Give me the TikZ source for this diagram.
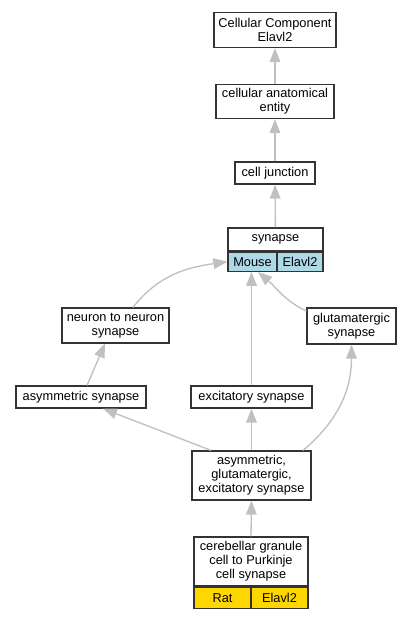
\documentclass[tikz,border=0pt]{standalone}
\usepackage{fontspec}
\setmainfont{Liberation Sans}
\usepackage{tikz}
\usetikzlibrary{arrows.meta,positioning}
\definecolor{edgegray}{HTML}{C0C0C0}
\definecolor{boxline}{HTML}{333333}
\definecolor{mousecell}{HTML}{ADD8E6}
\definecolor{ratcell}{HTML}{FFD700}
\tikzset{
  term/.style={draw=boxline,line width=0.9pt,fill=white,inner sep=0pt,align=center,
    font=\fontsize{9.6}{10.6}\selectfont},
  cell/.style={term,minimum height=14.25pt},
  isa/.style={draw,color=edgegray,line width=1pt,-{Triangle[length=10.5pt,width=8pt,fill=edgegray]}}
}

\begin{document}
\begin{tikzpicture}[x=0.75pt,y=-0.75pt]
  \useasboundingbox (0,0) rectangle (412,619);
                   \node[term,minimum width=91.5pt,minimum height=26.25pt] (cc_elavl) at (275,30) {Cellular Component\\Elavl2};
                   \node[term,minimum width=88.5pt,minimum height=25.5pt] (cae) at (275,101.5) {cellular anatomical\\entity};
                   \node[term,minimum width=60pt,minimum height=16.5pt] (cell_junction) at (275,173) {cell junction};
                   \node[term,minimum width=71.25pt,minimum height=17.25pt] (synapse) at (275.5,239.5) {synapse};
                   \node[cell,fill=mousecell,minimum width=36.75pt,anchor=north west] (syn_mouse) at (synapse.south west) {Mouse};
                   \node[cell,fill=mousecell,minimum width=34.5pt,anchor=north east] (syn_elavl) at (synapse.south east) {Elavl2};
                   \node[term,minimum width=80.25pt,minimum height=26.25pt] (n2n) at (115.5,325.5) {neuron to neuron\\synapse};
                   \node[term,minimum width=66.75pt,minimum height=27pt] (glut) at (351.5,326) {glutamatergic\\synapse};
                   \node[term,minimum width=97.5pt,minimum height=16.5pt] (asym) at (81,397) {asymmetric synapse};
                   \node[term,minimum width=90.75pt,minimum height=16.5pt] (excit) at (251.5,397) {excitatory synapse};
                   \node[term,minimum width=89.25pt,minimum height=36.75pt] (age) at (251.5,475.5) {asymmetric,\\glutamatergic,\\excitatory synapse};
                   \node[term,minimum width=85.5pt,minimum height=36.75pt] (cgc) at (251,561.5) {cerebellar granule\\cell to Purkinje\\cell synapse};
                   \node[cell,fill=ratcell,minimum width=42.75pt,minimum height=15.75pt,anchor=north west] (cgc_rat) at (cgc.south west) {Rat};
                   \node[cell,fill=ratcell,minimum width=42.75pt,minimum height=15.75pt,anchor=north east] (cgc_elavl) at (cgc.south east) {Elavl2};
                    \path[every edge/.style=isa]
                    (cae) edge (cc_elavl)
                    (cell_junction) edge (cae)
                    (synapse) edge (cell_junction)
                    (n2n.north -| 133,0) edge[out=52,in=188] (syn_mouse.west)
                    (excit.north) edge (syn_mouse.south -| excit.north)
                    (glut.west |- 0,311) edge[out=155,in=-40] (258,272)
                    (asym.north -| 87,0) edge (n2n.south -| 105,0)
                    (age.north -| 211,0) edge (asym.south -| 103,0)
                    (age.north -| excit.south) edge (excit.south)
                    (age.north -| 303,0) edge[out=40,in=-90] (glut.south)
                    (cgc.north) edge (age.south);
                \end{tikzpicture}
\end{document}
